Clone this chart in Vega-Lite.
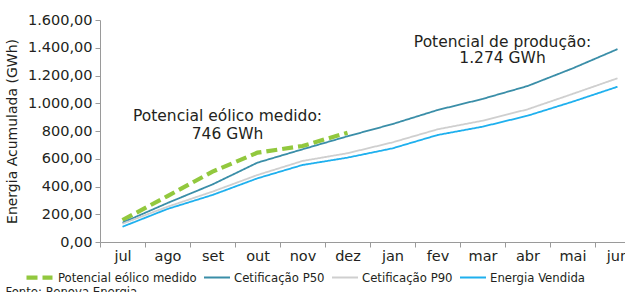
{
  "$schema": "https://vega.github.io/schema/vega-lite/v6.json",
  "autosize": {"type": "none"},
  "width": 525,
  "height": 222,
  "padding": {"left": 100, "top": 20, "right": 0, "bottom": 50},
  "background": "white",
  "config": {
    "view": {"stroke": null},
    "locale": {"number": {"decimal": ",", "thousands": ".", "grouping": [3], "currency": ["R$", ""]}},
    "font": "DejaVu Sans"
  },
  "title": {
    "text": "Fonte: Renova Energia",
    "orient": "bottom",
    "anchor": "start",
    "frame": "bounds",
    "font": "'DejaVu Sans Condensed', Roboto",
    "fontSize": 13,
    "fontWeight": "normal",
    "color": "#231f20",
    "offset": 0
  },
  "encoding": {
    "x": {
      "field": "mes", "type": "ordinal", "sort": null, "bandPosition": 0.5,
      "scale": {"type": "band", "range": [0, 540], "paddingInner": 0, "paddingOuter": 0,
        "domain": ["jul","ago","set","out","nov","dez","jan","fev","mar","abr","mai","jun"]},
      "axis": {
        "title": null, "labelAngle": 0, "tickBand": "extent", "grid": false,
        "domainColor": "#9a9a9a", "tickColor": "#9a9a9a", "tickSize": 5,
        "labelFont": "DejaVu Sans", "labelFontSize": 14.5, "labelColor": "#231f20", "labelPadding": 2
      }
    },
    "y": {
      "field": "valor", "type": "quantitative",
      "scale": {"domain": [0, 1600], "nice": false},
      "axis": {
        "title": "Energia Acumulada (GWh)", "format": ",.2f", "values": [0,200,400,600,800,1000,1200,1400,1600],
        "labelOverlap": false,
        "grid": false, "domainColor": "#9a9a9a", "tickColor": "#9a9a9a", "tickSize": 5,
        "labelFont": "DejaVu Sans", "labelFontSize": 14.5, "labelColor": "#231f20", "labelPadding": 3,
        "titleFont": "DejaVu Sans", "titleFontSize": 14, "titleFontWeight": "normal", "titleColor": "#231f20", "titlePadding": 8
      }
    }
  },
  "layer": [
    {
      "data": {"name": "series"},
      "mark": {"type": "line", "clip": false},
      "encoding": {
        "color": {
          "field": "serie", "type": "nominal", "title": null,
          "scale": {
            "domain": ["Potencial eólico medido","Cetificação P50","Cetificação P90","Energia Vendida"],
            "range": ["#92c83e", "#3a8ea8", "#cfcfcf", "#1fb0ee"]
          },
          "legend": {
            "orient": "none", "legendX": -76, "legendY": 242, "direction": "horizontal",
            "symbolType": "stroke", "symbolSize": 676, "labelFont": "'DejaVu Sans Condensed', Roboto",
            "labelFontSize": 13, "labelColor": "#231f20", "columnPadding": 3, "labelOffset": 3,
            "labelLimit": 300
          }
        },
        "strokeDash": {
          "field": "serie", "type": "nominal", "title": null,
          "scale": {
            "domain": ["Potencial eólico medido","Cetificação P50","Cetificação P90","Energia Vendida"],
            "range": [[11, 5], [1, 0], [1, 0], [1, 0]]
          }
        },
        "strokeWidth": {
          "field": "serie", "type": "nominal", "title": null,
          "scale": {
            "type": "ordinal",
            "domain": ["Potencial eólico medido","Cetificação P50","Cetificação P90","Energia Vendida"],
            "range": [4.2, 1.8, 1.8, 1.8]
          }
        }
      }
    },
    {
      "data": {"name": "notas"},
      "mark": {"type": "text", "font": "DejaVu Sans", "fontSize": 15.5, "color": "#231f20", "align": "center", "baseline": "alphabetic", "lineHeight": 18, "lineBreak": "\n", "dx": 15},
      "transform": [{"filter": "datum.id == 1"}],
      "encoding": {"text": {"field": "texto"}}
    },
    {
      "data": {"name": "notas"},
      "mark": {"type": "text", "font": "DejaVu Sans", "fontSize": 15.5, "color": "#231f20", "align": "center", "baseline": "alphabetic", "lineHeight": 16.5, "lineBreak": "\n", "dx": 20},
      "transform": [{"filter": "datum.id == 2"}],
      "encoding": {"text": {"field": "texto"}}
    }
  ],
  "datasets": {
    "notas": [
      {"id": 1, "mes": "set", "valor": 872, "texto": "Potencial eólico medido:\n746 GWh"},
      {"id": 2, "mes": "mar", "valor": 1408, "texto": "Potencial de produção:\n1.274 GWh"}
    ],
    "series": [
      {"serie": "Potencial eólico medido", "mes": "jul", "valor": 158},
      {"serie": "Potencial eólico medido", "mes": "ago", "valor": 331},
      {"serie": "Potencial eólico medido", "mes": "set", "valor": 507},
      {"serie": "Potencial eólico medido", "mes": "out", "valor": 644},
      {"serie": "Potencial eólico medido", "mes": "nov", "valor": 692},
      {"serie": "Potencial eólico medido", "mes": "dez", "valor": 788},
      {"serie": "Cetificação P50", "mes": "jul", "valor": 139},
      {"serie": "Cetificação P50", "mes": "ago", "valor": 281},
      {"serie": "Cetificação P50", "mes": "set", "valor": 415},
      {"serie": "Cetificação P50", "mes": "out", "valor": 572},
      {"serie": "Cetificação P50", "mes": "nov", "valor": 668},
      {"serie": "Cetificação P50", "mes": "dez", "valor": 762},
      {"serie": "Cetificação P50", "mes": "jan", "valor": 850},
      {"serie": "Cetificação P50", "mes": "fev", "valor": 951},
      {"serie": "Cetificação P50", "mes": "mar", "valor": 1031},
      {"serie": "Cetificação P50", "mes": "abr", "valor": 1124},
      {"serie": "Cetificação P50", "mes": "mai", "valor": 1251},
      {"serie": "Cetificação P50", "mes": "jun", "valor": 1390},
      {"serie": "Cetificação P90", "mes": "jul", "valor": 132},
      {"serie": "Cetificação P90", "mes": "ago", "valor": 254},
      {"serie": "Cetificação P90", "mes": "set", "valor": 363},
      {"serie": "Cetificação P90", "mes": "out", "valor": 483},
      {"serie": "Cetificação P90", "mes": "nov", "valor": 584},
      {"serie": "Cetificação P90", "mes": "dez", "valor": 640},
      {"serie": "Cetificação P90", "mes": "jan", "valor": 718},
      {"serie": "Cetificação P90", "mes": "fev", "valor": 812},
      {"serie": "Cetificação P90", "mes": "mar", "valor": 874},
      {"serie": "Cetificação P90", "mes": "abr", "valor": 956},
      {"serie": "Cetificação P90", "mes": "mai", "valor": 1067},
      {"serie": "Cetificação P90", "mes": "jun", "valor": 1180},
      {"serie": "Energia Vendida", "mes": "jul", "valor": 110},
      {"serie": "Energia Vendida", "mes": "ago", "valor": 238},
      {"serie": "Energia Vendida", "mes": "set", "valor": 339},
      {"serie": "Energia Vendida", "mes": "out", "valor": 459},
      {"serie": "Energia Vendida", "mes": "nov", "valor": 555},
      {"serie": "Energia Vendida", "mes": "dez", "valor": 608},
      {"serie": "Energia Vendida", "mes": "jan", "valor": 675},
      {"serie": "Energia Vendida", "mes": "fev", "valor": 771},
      {"serie": "Energia Vendida", "mes": "mar", "valor": 831},
      {"serie": "Energia Vendida", "mes": "abr", "valor": 910},
      {"serie": "Energia Vendida", "mes": "mai", "valor": 1011},
      {"serie": "Energia Vendida", "mes": "jun", "valor": 1119}
    ]
  }
}
